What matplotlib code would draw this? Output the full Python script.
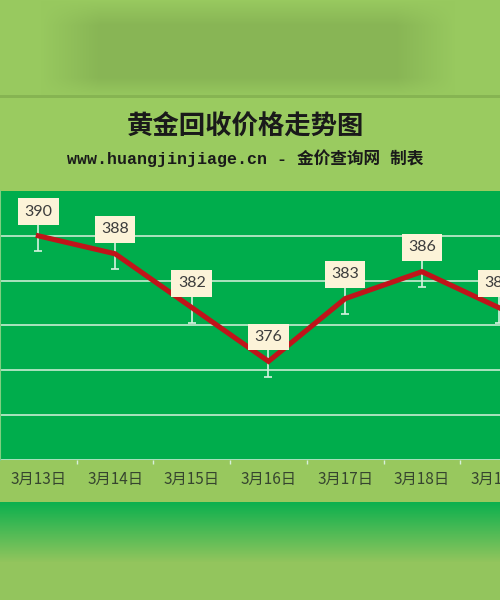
import numpy as np
import matplotlib
matplotlib.use('Agg')
import matplotlib.pyplot as plt
from matplotlib.ticker import FixedLocator

# data
dates = ['3月13日', '3月14日', '3月15日', '3月16日', '3月17日', '3月18日', '3月19日']
prices = [390, 388, 382, 376, 383, 386, 382]
err = [1.7] * len(prices)

title = '黄金回收价格走势图'
subtitle = 'www.huangjinjiage.cn - 金价查询网 制表'

W, H = 500, 600
fig = plt.figure(figsize=(W / 100, H / 100), dpi=100)

# background: blurred band on top, title panel, label band, bottom gradient
bg = np.zeros((H, W, 3))
top = np.array([0x88, 0xb5, 0x55]) / 255.0
edge = np.array([0x98, 0xc9, 0x5f]) / 255.0
xs = np.arange(W)
wx = np.clip(np.minimum((xs - 40) / 60.0, (455 - xs) / 60.0), 0, 1)
for y in range(0, 97):
    vy = min(1.0, y / 25.0) * min(1.0, (97 - y) / 20.0)
    w = wx * vy
    bg[y] = edge[None, :] * (1 - w[:, None]) + top[None, :] * w[:, None]
bg[95:98] = np.array([0x86, 0xb4, 0x52]) / 255.0
bg[98:191] = np.array([0x9a, 0xcb, 0x60]) / 255.0
bg[191:460] = np.array([0x00, 0xad, 0x4c]) / 255.0
bg[460:502] = np.array([0x98, 0xc8, 0x5e]) / 255.0
c1 = np.array([0x0c, 0xb0, 0x4e]) / 255.0
c2 = np.array([0x93, 0xc5, 0x5d]) / 255.0
for y in range(502, H):
    t = min(1.0, (y - 502) / 60.0)
    bg[y] = c1 * (1 - t) + c2 * t

bax = fig.add_axes([0, 0, 1, 1])
bax.imshow(bg, aspect='auto', interpolation='bilinear', extent=(0, W, H, 0))
bax.set_xlim(0, W)
bax.set_ylim(H, 0)
bax.axis('off')

fig.text(246 / W, 1 - 127 / H, title, ha='center', va='center', fontsize=19,
         fontweight='bold', color='#1a1a1a', family=['Noto Sans CJK SC', 'DejaVu Sans'])
fig.text(245 / W, 1 - 158 / H, subtitle, ha='center', va='center', fontsize=12,
         fontweight='bold', color='#1a1a1a',
         family=['Liberation Mono', 'Noto Sans CJK SC'])

# plot axes, runs past the right edge like the cropped original
ax = fig.add_axes([0, 1 - 460 / H, 537 / W, 269 / H])
ax.set_facecolor('none')
x = np.arange(len(dates))
ax.set_xlim(-0.5, len(dates) - 0.5)
ax.set_ylim(365, 395)
ax.set_yticks([365, 370, 375, 380, 385, 390])
ax.yaxis.grid(True, color='#c8ecd2', lw=1.2)
ax.set_axisbelow(True)
ax.tick_params(axis='y', left=False, labelleft=False)

ax.set_xticks(x)
ax.set_xticklabels(dates, family=['Noto Sans CJK SC', 'DejaVu Sans'], fontsize=11,
                   color='#36452f')
ax.tick_params(axis='x', which='major', length=0, pad=8)
ax.xaxis.set_minor_locator(FixedLocator(np.arange(0.5, len(dates) - 0.5, 1)))
ax.tick_params(axis='x', which='minor', length=3, color='#d8f0dc', width=1)

for s in ['top', 'right', 'bottom']:
    ax.spines[s].set_visible(False)
ax.spines['left'].set_color('#7fcf80')
ax.spines['left'].set_linewidth(1.5)

ax.errorbar(x, prices, yerr=err, fmt='none', ecolor='#d8f2e0', elinewidth=1.2,
            capsize=3, capthick=1.2, zorder=3)
ax.plot(x, prices, color='#c0141a', lw=3.7, zorder=4, solid_joinstyle='miter')

for xi, p in zip(x, prices):
    ax.annotate(str(p), (xi, p), xytext=(0, 17.5), textcoords='offset points',
                ha='center', va='center', fontsize=11.5, color='#3c3c3c',
                family='Lato', zorder=6,
                bbox=dict(boxstyle='square,pad=0.4', fc='#fcf3d8', ec='none'))

fig.savefig('out.png', dpi=100)
